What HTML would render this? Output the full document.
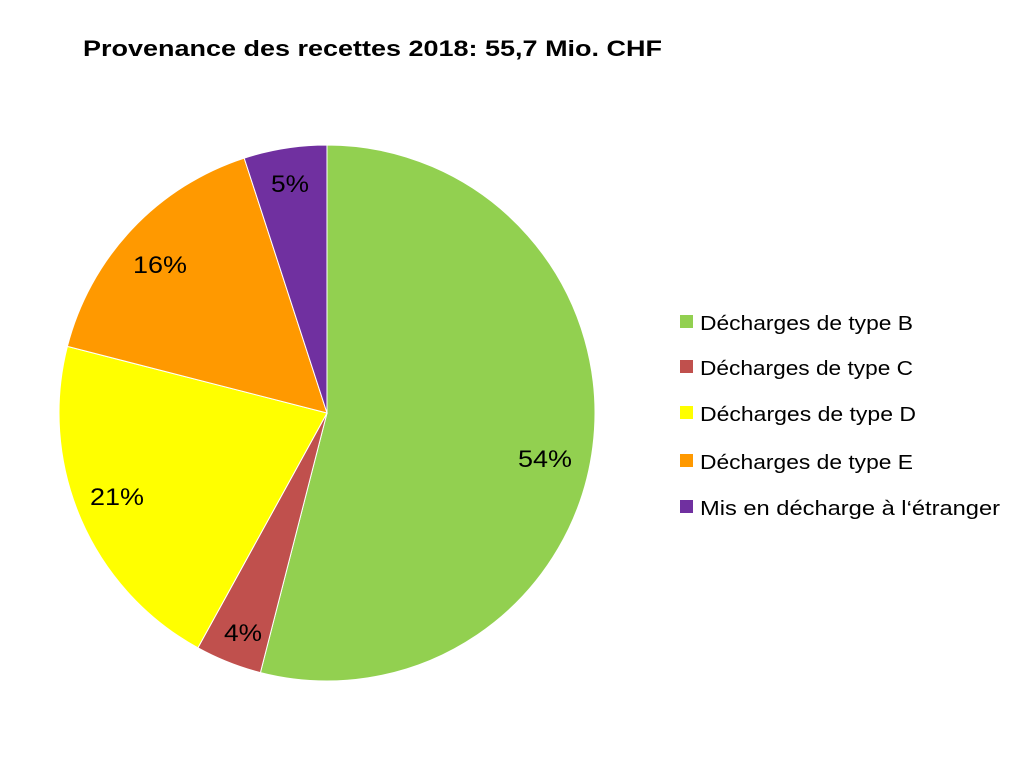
<!DOCTYPE html>
<html><head><meta charset="utf-8"><style>
html,body{margin:0;padding:0;background:#fff;}
</style></head><body>
<svg width="1024" height="772" xmlns="http://www.w3.org/2000/svg" font-family="Liberation Sans, sans-serif">
<rect width="1024" height="772" fill="#fff"/>
<text x="83" y="56" font-size="22" font-weight="bold" fill="#000" textLength="579" lengthAdjust="spacingAndGlyphs">Provenance des recettes 2018: 55,7 Mio. CHF</text>
<g stroke="#fff" stroke-width="1">
<path d="M327,413 L327,145 A268,268 0 1,1 260.4,672.6 Z" fill="#92D050"/>
<path d="M327,413 L260.4,672.6 A268,268 0 0,1 197.9,647.8 Z" fill="#C0504D"/>
<path d="M327,413 L197.9,647.8 A268,268 0 0,1 67.4,346.4 Z" fill="#FFFF00"/>
<path d="M327,413 L67.4,346.4 A268,268 0 0,1 244.2,158.1 Z" fill="#FF9900"/>
<path d="M327,413 L244.2,158.1 A268,268 0 0,1 327,145 Z" fill="#7030A0"/>
</g>
<g font-size="24" fill="#000">
<text x="518" y="467" textLength="54" lengthAdjust="spacingAndGlyphs">54%</text>
<text x="224" y="641" textLength="38" lengthAdjust="spacingAndGlyphs">4%</text>
<text x="90" y="505" textLength="54" lengthAdjust="spacingAndGlyphs">21%</text>
<text x="133" y="273" textLength="54" lengthAdjust="spacingAndGlyphs">16%</text>
<text x="271" y="192" textLength="38" lengthAdjust="spacingAndGlyphs">5%</text>
</g>
<g font-size="20" fill="#000">
<rect x="680" y="315" width="13" height="13" fill="#92D050"/><text x="700" y="330" textLength="213" lengthAdjust="spacingAndGlyphs">Décharges de type B</text>
<rect x="680" y="360" width="13" height="13" fill="#C0504D"/><text x="700" y="375" textLength="213" lengthAdjust="spacingAndGlyphs">Décharges de type C</text>
<rect x="680" y="406" width="13" height="13" fill="#FFFF00"/><text x="700" y="421" textLength="216" lengthAdjust="spacingAndGlyphs">Décharges de type D</text>
<rect x="680" y="454" width="13" height="13" fill="#FF9900"/><text x="700" y="469" textLength="213" lengthAdjust="spacingAndGlyphs">Décharges de type E</text>
<rect x="680" y="500" width="13" height="13" fill="#7030A0"/><text x="700" y="515" textLength="300" lengthAdjust="spacingAndGlyphs">Mis en décharge à l‘étranger</text>
</g>
</svg>
</body></html>
